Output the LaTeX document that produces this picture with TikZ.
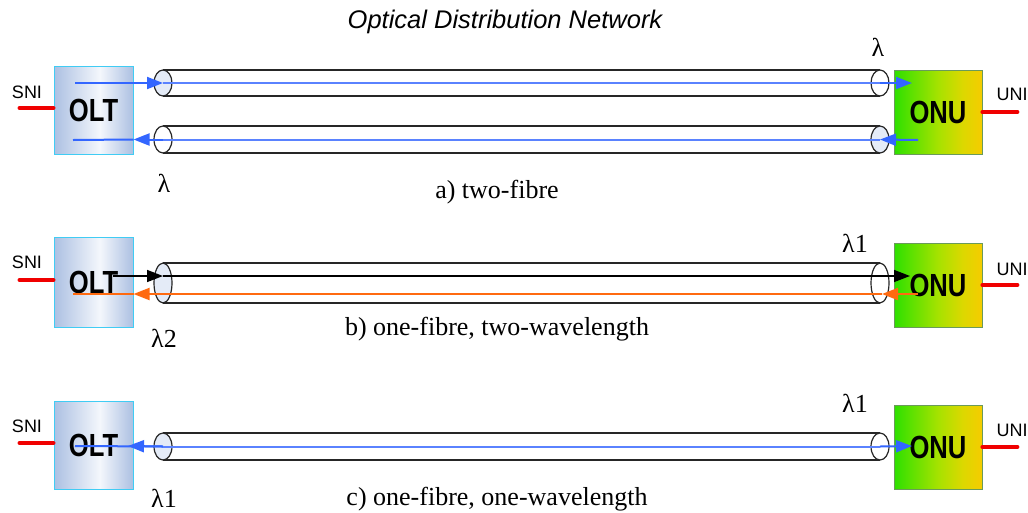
\documentclass[tikz,border=0pt]{standalone}
\usepackage{fontspec}
\setmainfont{Liberation Serif}
\setsansfont{Liberation Sans}
\newfontfamily\boxfont[FakeStretch=0.8]{Liberation Sans}
\usetikzlibrary{arrows.meta}

\definecolor{sigblue}{HTML}{3366FF}
\definecolor{fibreblue}{HTML}{5A82FF}
\definecolor{sigorange}{HTML}{FF6A10}
\definecolor{portred}{HTML}{F00000}
\definecolor{capfill}{HTML}{E4EBF7}
\definecolor{oltedge}{HTML}{40CCF4}
\definecolor{onuedge}{HTML}{6A9A5A}
\definecolor{oltA}{HTML}{ACC0E2}
\definecolor{oltB}{HTML}{F4F7FC}
\definecolor{onuA}{HTML}{2EE000}
\definecolor{onuB}{HTML}{A6E200}
\definecolor{onuC}{HTML}{DCD800}
\definecolor{onuD}{HTML}{F5CC00}

% box gradients: the node's width maps onto 25bp..75bp
\pgfdeclarehorizontalshading{oltshade}{100bp}{color(0bp)=(oltA); color(25bp)=(oltA);
  color(54bp)=(oltB); color(75bp)=(oltA); color(100bp)=(oltA)}
\pgfdeclarehorizontalshading{onushade}{100bp}{color(0bp)=(onuA); color(25bp)=(onuA);
  color(50bp)=(onuB); color(64bp)=(onuC); color(75bp)=(onuD); color(100bp)=(onuD)}

\tikzset{
  oltbox/.style={draw=oltedge, line width=1pt, shading=oltshade, inner sep=0pt,
    minimum width=79pt, minimum height=88pt,
    font=\boxfont\bfseries\fontsize{32}{32}\selectfont},
  onubox/.style={draw=onuedge, line width=0.8pt, shading=onushade, inner sep=0pt,
    minimum width=88pt, minimum height=84pt,
    font=\boxfont\bfseries\fontsize{32}{32}\selectfont},
  port/.style={draw=portred, line width=4pt, line cap=round},
  portlabel/.style={font=\sffamily\fontsize{18}{18}\selectfont, inner sep=0pt},
  lamlabel/.style={font=\fontsize{26}{26}\selectfont, inner sep=0pt},
  caption/.style={font=\fontsize{26}{26}\selectfont, inner sep=0pt, anchor=base},
  fibreedge/.style={draw=black!85, line width=1.2pt},
  tri/.tip={Triangle[length=16pt,width=12pt]},
  bluesig/.style={draw=sigblue, fill=sigblue, line width=2pt},
  bluefibre/.style={draw=fibreblue, line width=2pt},
  blacksig/.style={draw=black, fill=black, line width=1.5pt},
  orangesig/.style={draw=sigorange, fill=sigorange, line width=2pt},
}

% a fibre: name, centre y, half height, fill of left cap, fill of right cap
\newcommand\drawfibre[5]{%
  \coordinate (#1L) at (163,#2);
  \coordinate (#1R) at (880,#2);
  \draw[fibreedge] (163,#2-#3) -- (880,#2-#3) (163,#2+#3) -- (880,#2+#3);
  \draw[fibreedge, fill=#5] (#1R) ellipse [x radius=9, y radius=#3];
  \draw[fibreedge, fill=#4] (#1L) ellipse [x radius=9, y radius=#3];
}

\begin{document}
\begin{tikzpicture}[x=1pt,y=-1pt]
\useasboundingbox[fill=white] (0,0) rectangle (1028,512);

\node[font=\sffamily\itshape\fontsize{25.5}{25.5}\selectfont, anchor=base, inner sep=0pt]
  (title) at (505,28) {Optical Distribution Network};

% terminals
\node[oltbox] (olta) at (93.5,110) {OLT};
\node[oltbox, minimum height=90pt] (oltb) at (93.5,282) {OLT};
\node[oltbox] (oltc) at (93.5,445) {OLT};
\node[onubox] (onua) at (938,112) {ONU};
\node[onubox] (onub) at (938,285) {ONU};
\node[onubox] (onuc) at (938,447) {ONU};

% interfaces
\foreach \t/\dy in {olta/-18, oltb/-20, oltc/-19}{
  \draw[port] ([yshift=2pt]\t.west) -- ++(-34,0);
  \node[portlabel] (sni-\t) at ([yshift=-\dy pt]\t.west -| 27,0) {SNI};
}
\foreach \t/\dy in {onua/-18, onub/-16, onuc/-17}{
  \draw[port] (\t.east) -- ++(35,0);
  \node[portlabel] (uni-\t) at ([yshift=-\dy pt]\t.east -| 1012,0) {UNI};
}

% fibres
\drawfibre{fa}{83}{13}{capfill}{white}
\drawfibre{fb}{139.5}{13.5}{white}{capfill}
\drawfibre{fc}{283}{20}{capfill}{white}
\drawfibre{fd}{446.5}{13.5}{capfill}{white}

% a) two-fibre
\coordinate (ta) at (75,83);   \coordinate (ra) at (912,83);
\draw[bluesig, -tri] (ta) -- (faL);
\draw[bluefibre] (faL) -- (faR);
\draw[bluesig, -tri] (faR) -- (ra);
\coordinate (rb) at (918,140); \coordinate (tb) at (73,140);
\draw[bluesig, -tri] (rb) -- (fbR);
\draw[bluefibre] (fbR) -- (fbL);
\draw[bluesig, -tri] (fbL) -- (olta.east |- fbL);
\draw[bluesig] (olta.east |- fbL) -- (tb);

% b) one fibre, two wavelengths
\coordinate (tc) at (113,276); \coordinate (tcL) at (163,276);
\coordinate (tcR) at (880,276); \coordinate (rc) at (910,276);
\draw[blacksig, -tri] (tc) -- (tcL);
\draw[black, line width=1.2pt] (tcL) -- (tcR);
\draw[blacksig, -tri] (tcR) -- (rc);
\coordinate (rd) at (918,294); \coordinate (rdR) at (882,294);
\coordinate (rdL) at (163,294); \coordinate (td) at (73,294);
\draw[orangesig, -tri] (rd) -- (rdR);
\draw[orangesig] (rdR) -- (rdL);
\draw[orangesig, -tri] (rdL) -- (oltb.east |- rdL);
\draw[orangesig] (oltb.east |- rdL) -- (td);

% c) one fibre, one wavelength
\coordinate (te) at (75,446); \coordinate (tip) at (128,446);
\coordinate (re) at (912,446);
\draw[bluesig] (te) -- (fdL);
\draw[bluesig, -tri] (fdL) -- (tip);
\draw[bluefibre] (fdL) -- (fdR);
\draw[bluesig, -tri] (fdR) -- (re);

% wavelengths
\node[lamlabel] (la1) at (878,47) {λ};
\node[lamlabel] (la2) at (164,183) {λ};
\node[lamlabel] (lb1) at (855,243) {λ1};
\node[lamlabel] (lb2) at (164,338) {λ2};
\node[lamlabel] (lc1) at (855,403) {λ1};
\node[lamlabel] (lc2) at (164,498) {λ1};

% captions
\node[caption] (capa) at (497,198) {a) two-fibre};
\node[caption] (capb) at (497,335) {b) one-fibre, two-wavelength};
\node[caption] (capc) at (497,505) {c) one-fibre, one-wavelength};
\end{tikzpicture}
\end{document}
